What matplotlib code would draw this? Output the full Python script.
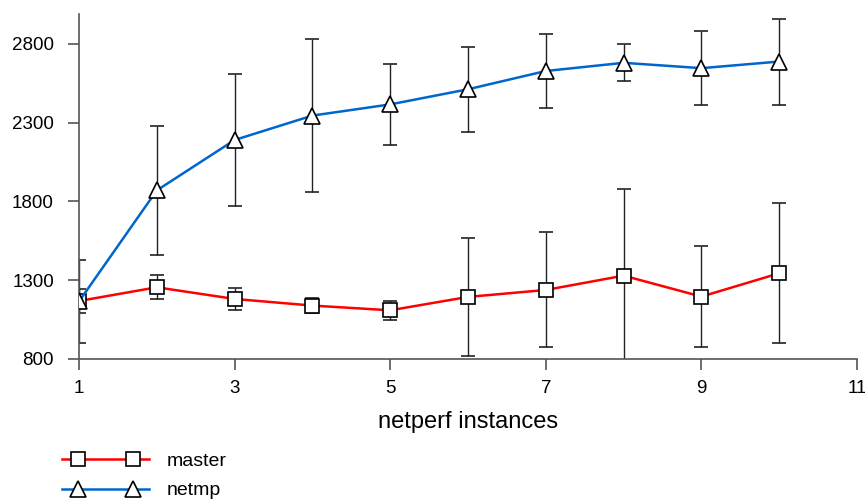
import numpy as np
import matplotlib.pyplot as plt
from matplotlib.legend_handler import HandlerLine2DCompound

plt.rcParams['font.family'] = ['Liberation Sans', 'DejaVu Sans']

# data
instances = [1, 2, 3, 4, 5, 6, 7, 8, 9, 10]
master = [1168, 1255, 1181, 1139, 1109, 1194, 1238, 1329, 1196, 1344]
master_err = [78, 76, 72, 45, 62, 372, 365, 548, 320, 443]
netmp = [1165, 1870, 2190, 2345, 2416, 2512, 2628, 2680, 2646, 2688]
netmp_err = [263, 407, 419, 488, 259, 269, 232, 117, 233, 273]

xticks = [1, 3, 5, 7, 9, 11]
yticks = [800, 1300, 1800, 2300, 2800]


# legend line spans the full handle, the two markers sit a bit inside it
class EndsHandler(HandlerLine2DCompound):
    def get_xdata(self, legend, xdescent, ydescent, width, height, fontsize):
        pad = self._marker_pad * fontsize
        xline = np.array([-xdescent, -xdescent + width])
        xmark = np.linspace(-xdescent + pad, -xdescent + width - pad, 2)
        return xline, xmark


fig = plt.figure(figsize=(8.65, 4.99), dpi=100)
ax = fig.add_axes([0.0913, 0.2806, 0.8995, 0.6914])

spine_col = '#555555'
err_kw = dict(ecolor='#222222', elinewidth=1.0, capsize=4.8, capthick=1.0)

l1 = ax.errorbar(instances, master, yerr=master_err, color='#ff0000', lw=1.8,
                 marker='s', ms=10, mfc='white', mec='black', mew=1.2,
                 label='master', **err_kw)
l2 = ax.errorbar(instances, netmp, yerr=netmp_err, color='#0066cc', lw=1.8,
                 marker='^', ms=11, mfc='white', mec='black', mew=1.2,
                 label='netmp', **err_kw)
for cont in (l1, l2):
    cont[0].set_zorder(4)

ax.set_xlim(1, 11)
ax.set_ylim(800, 2990)
ax.set_xticks(xticks)
ax.set_yticks(yticks)
ax.tick_params(axis='both', direction='out', length=8, width=1.2,
               color=spine_col, labelsize=13.5)
ax.tick_params(axis='y', pad=10)
ax.tick_params(axis='x', pad=7)
for side in ('top', 'right'):
    ax.spines[side].set_visible(False)
for side in ('left', 'bottom'):
    ax.spines[side].set_color(spine_col)
    ax.spines[side].set_linewidth(1.2)
    ax.spines[side].set_clip_on(False)

ax.set_xlabel('netperf instances', fontsize=17, labelpad=10)

leg = fig.legend(handles=[l1[0], l2[0]], labels=['master', 'netmp'],
                 loc='upper left', bbox_to_anchor=(0.052, 0.129),
                 frameon=False, numpoints=2, handlelength=4.43,
                 handletextpad=0.93, labelspacing=0.62, fontsize=14,
                 handler_map={l1[0]: EndsHandler(marker_pad=0.8),
                              l2[0]: EndsHandler(marker_pad=0.8)})

fig.savefig('out.png', dpi=100)
